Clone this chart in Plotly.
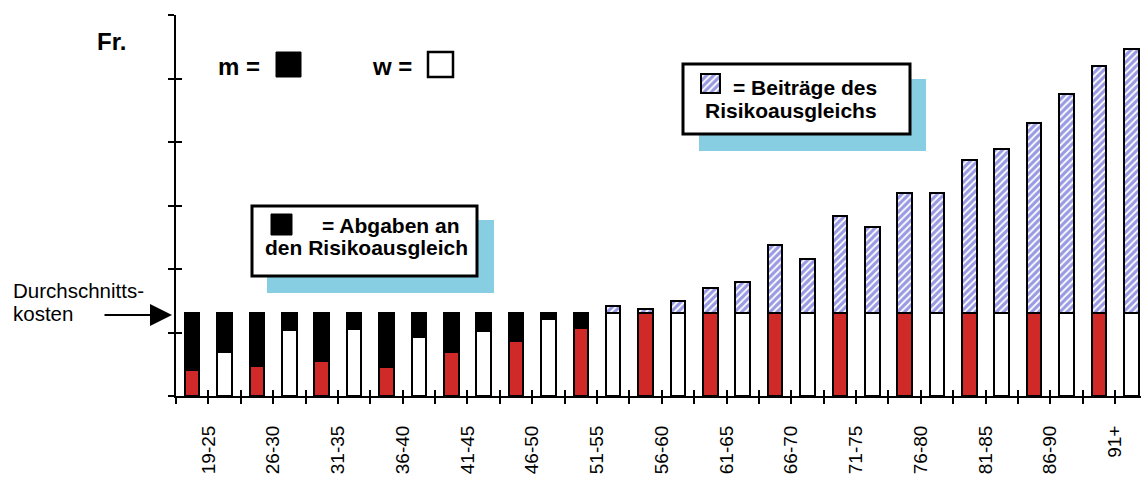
import plotly.graph_objects as go

# ---------------- data ----------------
altersgruppen = ["19-25", "26-30", "31-35", "36-40", "41-45", "46-50", "51-55",
                 "56-60", "61-65", "66-70", "71-75", "76-80", "81-85", "86-90", "91+"]
kosten_m = [410, 480, 550, 460, 690, 870, 1070, 1370, 1700, 2380, 2830, 3200, 3710, 4300, 5200]
kosten_w = [690, 1040, 1050, 930, 1020, 1210, 1420, 1500, 1800, 2160, 2660, 3190, 3890, 4760, 5460]
durchschnitt = 1310

# ---------------- styling ----------------
FONT = "Arial, Liberation Sans, sans-serif"
RED = "#cf2a27"
HATCH = dict(shape="/", fgcolor="#3535c8", bgcolor="white", size=5, solidity=0.65)
SHADOW = "#88cee2"

W, H = 1141, 479
L, R, T, B = 176, 0, 15, 83
PW, PH = W - L - R, H - T - B


def px(xp):
    return (xp - L) / PW


def py(yp):
    return (H - B - yp) / PH


# build bar series (m and w side by side per age group)
xpos, werte, farben = [], [], []
for g, _ in enumerate(altersgruppen):
    xpos += [2 * g, 2 * g + 1]
    werte += [kosten_m[g], kosten_w[g]]
    farben += [RED, "white"]

basis = [min(v, durchschnitt) for v in werte]
abgaben = [durchschnitt - v if v < durchschnitt else None for v in werte]
beitraege = [v - durchschnitt if v > durchschnitt else None for v in werte]

BW = 0.45
outline = dict(color="black", width=2)

fig = go.Figure()
fig.add_trace(go.Bar(x=xpos, y=basis, width=BW, marker=dict(color=farben, line=outline),
                     hoverinfo="skip"))
fig.add_trace(go.Bar(x=xpos, y=abgaben, width=BW, marker=dict(color="black", line=outline),
                     hoverinfo="skip"))
fig.add_trace(go.Bar(x=xpos, y=beitraege, width=BW,
                     marker=dict(color="white", pattern=HATCH, line=outline), hoverinfo="skip"))
# dummy trace for the overlay axes (inside ticks)
fig.add_trace(go.Scatter(x=[None], y=[None], xaxis="x2", yaxis="y2", showlegend=False,
                         hoverinfo="skip"))
# legend swatch (hatched) in its own mini axes
fig.add_trace(go.Bar(x=[0], y=[1], width=[1], xaxis="x3", yaxis="y3",
                     marker=dict(color="white", pattern=HATCH, line=dict(width=0)),
                     hoverinfo="skip"))

nb = 2 * len(altersgruppen)
grenzen = [k - 0.5 for k in range(nb)]
ticktext = [altersgruppen[(k - 1) // 2] if k % 2 == 1 else "" for k in range(nb)]
xr = [-0.5, 29.3]
yr = [0, 6000]

axis_common = dict(showgrid=False, zeroline=False, tickcolor="black", tickwidth=2, ticklen=6,
                   automargin=False)

fig.update_layout(
    width=W, height=H, margin=dict(l=L, r=R, t=T, b=B, pad=0, autoexpand=False),
    paper_bgcolor="white", plot_bgcolor="rgba(0,0,0,0)",
    barmode="stack", showlegend=False,
    font=dict(family=FONT, color="black"),
    xaxis=dict(range=xr, tickmode="array", tickvals=grenzen, ticktext=ticktext,
               ticks="outside", showline=True, linecolor="black", linewidth=2,
               tickangle=-90, tickfont=dict(size=19, family=FONT, color="black"),
               ticklabelstandoff=14, **axis_common),
    yaxis=dict(range=yr, tickmode="linear", tick0=0, dtick=1000, ticks="outside",
               showticklabels=False, showline=True, linecolor="black", linewidth=2,
               **axis_common),
    xaxis2=dict(range=xr, overlaying="x", anchor="y", tickmode="array", tickvals=grenzen,
                ticks="inside", showticklabels=False, showline=False, **axis_common),
    yaxis2=dict(range=yr, overlaying="y", anchor="x", side="left", tickmode="linear",
                tick0=0, dtick=1000, ticks="inside", showticklabels=False, showline=False,
                **axis_common),
    xaxis3=dict(domain=[px(701), px(720)], range=[-0.5, 0.5], anchor="y3", visible=False),
    yaxis3=dict(domain=[py(93), py(74)], range=[0, 1], anchor="x3", visible=False),
)


def rect(x0, y0, x1, y1, fill, lw=0, layer="below"):
    return dict(type="rect", xref="paper", yref="paper", x0=px(x0), x1=px(x1),
                y0=py(y1), y1=py(y0), fillcolor=fill, layer=layer,
                line=dict(color="black", width=lw))


shapes = [
    # box 1 (Beiträge)
    rect(699, 79, 926, 151, SHADOW),
    rect(683, 64, 910, 134, "white", 3),
    # box 2 (Abgaben)
    rect(267, 220, 494, 293, SHADOW),
    rect(252, 206, 477, 276, "white", 3),
    rect(271, 214, 292, 235, "black", 1),
    # m / w swatches
    rect(276, 52, 301, 77, "black", 1),
    rect(428, 52, 453, 77, "white", 2.5),
]
shapes.append(dict(type="rect", xref="paper", yref="paper", x0=px(701), x1=px(720),
                   y0=py(93), y1=py(74), fillcolor="rgba(0,0,0,0)", layer="above",
                   line=dict(color="black", width=2)))
fig.update_layout(shapes=shapes)


def txt(text, x, y, size, anchor="left", bold=True):
    return dict(text=f"<b>{text}</b>" if bold else text, x=px(x), y=py(y), xref="paper",
                yref="paper", xanchor=anchor, yanchor="middle", showarrow=False,
                font=dict(size=size, family=FONT, color="black"))


annotations = [
    txt("Fr.", 111, 41, 24, "center"),
    txt("m =", 216, 66, 24),
    txt("w =", 370, 66, 24),
    txt("= Beiträge des", 731, 88, 21),
    txt("Risikoausgleichs", 703, 110, 21),
    txt("= Abgaben an", 320, 225, 21),
    txt("den Risikoausgleich", 263, 247, 21),
    txt("Durchschnitts-", 11, 290, 20.5, bold=False),
    txt("kosten", 11, 313, 20.5, bold=False),
    dict(x=px(172), y=py(315), xref="paper", yref="paper", ax=-69, ay=0, text="",
         showarrow=True, arrowhead=2, arrowsize=2.2, arrowwidth=2, arrowcolor="black"),
]
fig.update_layout(annotations=annotations)

fig.write_html("out.html", config={"displayModeBar": False},
               post_script="document.body.style.margin='0';")
